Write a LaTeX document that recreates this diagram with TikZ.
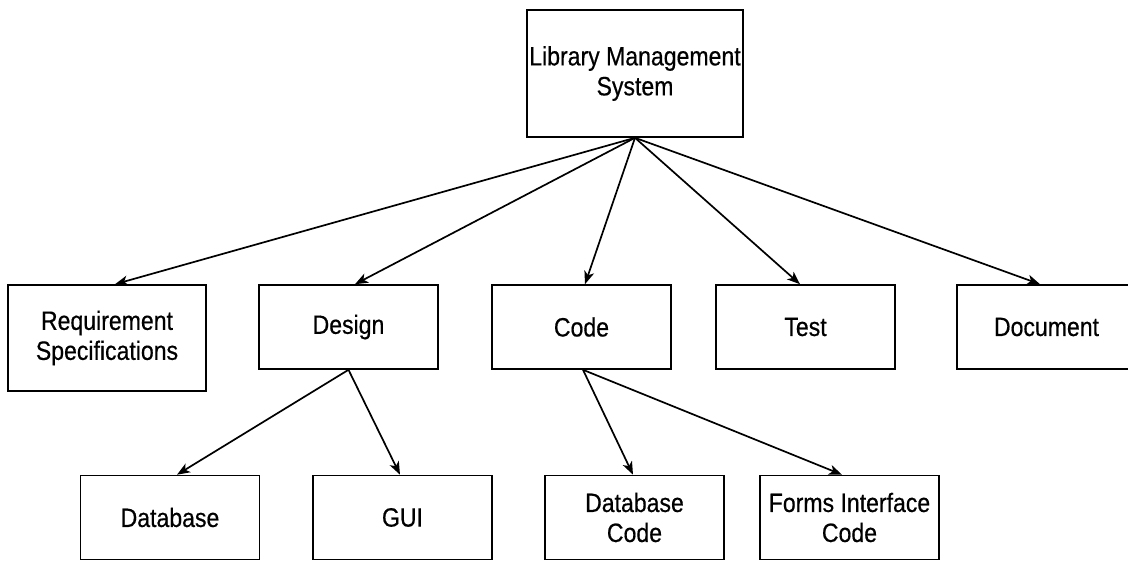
\documentclass[tikz,border=0pt]{standalone}
\usepackage{fontspec}
\setmainfont{Liberation Sans}[FakeStretch=0.87,FakeBold=0.5]
\usepackage{tikz}
\usetikzlibrary{arrows.meta,positioning}
\tikzset{>={Stealth[length=13pt,width=10pt,inset=3.5pt]}}

\begin{document}
\begin{tikzpicture}[x=1pt,y=-1pt,
                box/.style={draw,line width=1.6pt,minimum width=179pt,minimum height=84pt,inner sep=0pt,align=center,font=\fontsize{26.5}{30}\selectfont},
                link/.style={->,line width=1.7pt}]
                \useasboundingbox (0,0) rectangle (1128,560);
                \clip (0,0) rectangle (1128,560);
                \node[box,minimum width=216pt,minimum height=127pt] (lms) at (635,73.5) {Library Management\\System};
                \node[box,minimum width=198pt,minimum height=106pt] (req) at (107,338) {Requirement\\Specifications};
                \node[box] (design) at (348.5,327) {Design};
                \node[box] (code) at (581.5,327) {Code};
                \node[box] (test) at (805.5,327) {Test};
                \node[box] (doc) at (1046.5,327) {Document};
                \node[box] (db) at (170,517.5) {Database};
                \node[box] (gui) at (402.5,517.5) {GUI};
                \node[box] (dbcode) at (634.5,517.5) {Database\\Code};
                \node[box] (forms) at (849.5,517.5) {Forms Interface\\Code};
                \draw[link] (lms.south) -- ([xshift=8pt]req.north);
                \draw[link] (lms.south) -- ([xshift=6.5pt]design.north);
                \draw[link] (lms.south) -- ([xshift=3.5pt]code.north);
                \draw[link] (lms.south) -- ([xshift=-5.5pt]test.north);
                \draw[link] (lms.south) -- ([xshift=-6.5pt]doc.north);
                \draw[link] (design.south) -- ([xshift=7pt]db.north);
                \draw[link] (design.south) -- ([xshift=-2.5pt]gui.north);
                \draw[link] ([xshift=1.5pt]code.south) -- ([xshift=-1.5pt]dbcode.north);
                \draw[link] ([xshift=1.5pt]code.south) -- ([xshift=-7.5pt]forms.north);
            \end{tikzpicture}
\end{document}
